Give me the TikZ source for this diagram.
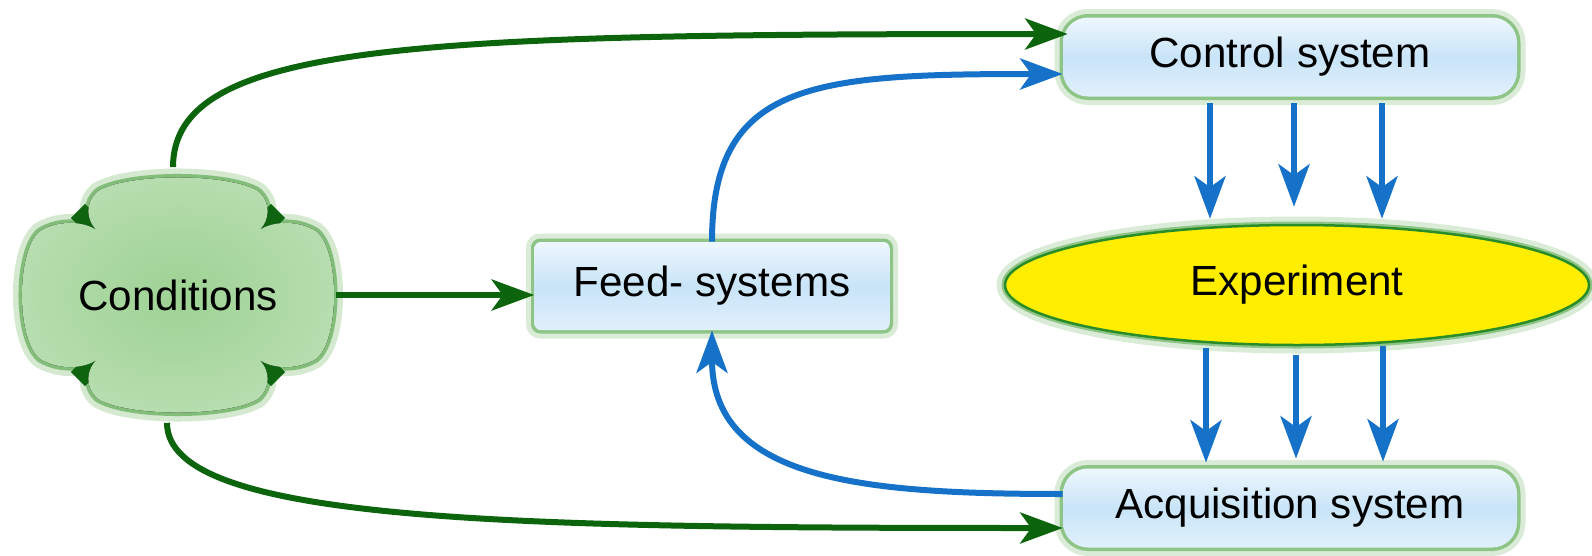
\documentclass[tikz,border=0pt]{standalone}
\usepackage{fontspec}
\setmainfont{Liberation Sans}
\usetikzlibrary{arrows.meta,shapes.geometric,backgrounds}
\definecolor{arrgreen}{RGB}{12,100,12}
\definecolor{arrblue}{RGB}{22,114,200}
\definecolor{boxblue}{RGB}{200,228,248}
\definecolor{expyellow}{RGB}{255,238,0}
\definecolor{expgreen}{RGB}{40,140,40}
\definecolor{condgreen}{RGB}{158,210,148}
\definecolor{glowgreen}{RGB}{110,180,100}
\definecolor{notchgreen}{RGB}{15,100,15}
\newcommand{\CloudPath}{(78,62) .. controls (92,72) and (94,92) .. (80,104) .. controls (50,122) and (-50,122) .. (-80,104) .. controls (-94,92) and (-92,72) .. (-78,62) .. controls (-90,74) and (-118,76) .. (-138,64) .. controls (-162,45) and (-162,-45) .. (-138,-64) .. controls (-118,-76) and (-90,-74) .. (-78,-62) .. controls (-92,-72) and (-94,-92) .. (-80,-104) .. controls (-50,-122) and (50,-122) .. (80,-104) .. controls (94,-92) and (92,-72) .. (78,-62) .. controls (90,-74) and (118,-76) .. (138,-64) .. controls (162,-45) and (162,45) .. (138,64) .. controls (118,76) and (90,74) .. (78,62) -- cycle}
\tikzset{
    >={Stealth[length=0.85cm,width=0.62cm,inset=0.22cm]},
    node_text/.style={font=\fontsize{24}{28}\selectfont},
    glow/.style={preaction={draw=glowgreen!50,line width=0.34cm,draw opacity=0.5},
                 preaction={draw=glowgreen,line width=0.14cm,draw opacity=0.7}},
    sysbox/.style={node_text,glow,rectangle,rounded corners=0.5cm,minimum width=9.08cm,minimum height=1.58cm,
                   top color=boxblue!30,bottom color=boxblue!55,middle color=boxblue},
    gflow/.style={->,draw=arrgreen,line width=0.12cm},
    bflow/.style={->,draw=arrblue,line width=0.12cm},
}
\begin{document}
\begin{tikzpicture}
\useasboundingbox (0,0) rectangle (31.84,11.1);

           \node[sysbox] (Ctrl) at (25.8, 9.96) {Control system};
           \node[sysbox] (Acq) at (25.8, 0.94) {Acquisition system};
           \node[sysbox,rounded corners=0.12cm,minimum width=7.1cm,minimum height=1.76cm] (Feed) at (14.24, 5.38) {Feed- systems};
           \node[node_text,glow,ellipse,draw=expgreen,line width=0.05cm,fill=expyellow,minimum width=11.68cm,minimum height=2.4cm] (Exp) at (25.94, 5.4) {Experiment};
           \node[node_text,minimum width=6.3cm,minimum height=5.1cm] (Cond) at (3.56, 5.2) {Conditions};

% cloud behind the conditions text
\begin{scope}[on background layer,shift={(Cond.center)},x=0.02cm,y=0.02cm]
  \draw[glowgreen!50,line width=0.36cm,opacity=0.6] \CloudPath;
  \draw[glowgreen,line width=0.14cm,opacity=0.8] \CloudPath;
  \foreach \sx/\sy in {1/1,-1/1,-1/-1,1/-1}
    \draw[notchgreen,line width=0.4cm] (74*\sx,58*\sy) -- (100*\sx,84*\sy);
  \fill[inner color=condgreen,outer color=condgreen!75!white] \CloudPath;
\end{scope}

\draw [gflow] ([xshift=-0.1cm]Cond.north) to [out=90,in=180,out distance=2.5cm,in distance=13cm] ([xshift=0.1cm,yshift=0.46cm]Ctrl.west);
\draw [gflow] ([xshift=-0.22cm]Cond.south) to [out=-90,in=180,out distance=2cm,in distance=11cm] ([yshift=-0.4cm]Acq.west);
\draw [gflow] (Cond.east) -- (Cond.east -| Feed.west);

\draw [bflow] (Feed.north) to [out=90,in=180,out distance=3.2cm,in distance=5cm] ([yshift=-0.34cm]Ctrl.west);
\draw [bflow] ([yshift=0.28cm]Acq.west) to [out=180,in=-90,out distance=4cm,in distance=3cm] (Feed.south);

\foreach \dx/\cut in {-1.6/0.1,0.08/0.34,1.84/0.1}
  \draw [bflow,shorten <=0.12cm,shorten >=\cut cm] ([xshift=\dx cm]Ctrl.south) -- ([xshift=\dx cm]Ctrl.south |- Exp.north);
\foreach \dx/\gap/\cut in {-1.68/0.04/0.11,0.12/0.18/0.19,1.86/0/0.13}
  \draw [bflow,shorten <=\gap cm,shorten >=\cut cm] ([xshift=\dx cm]Acq.north |- Exp.south) -- ([xshift=\dx cm]Acq.north);

\end{tikzpicture}
\end{document}
